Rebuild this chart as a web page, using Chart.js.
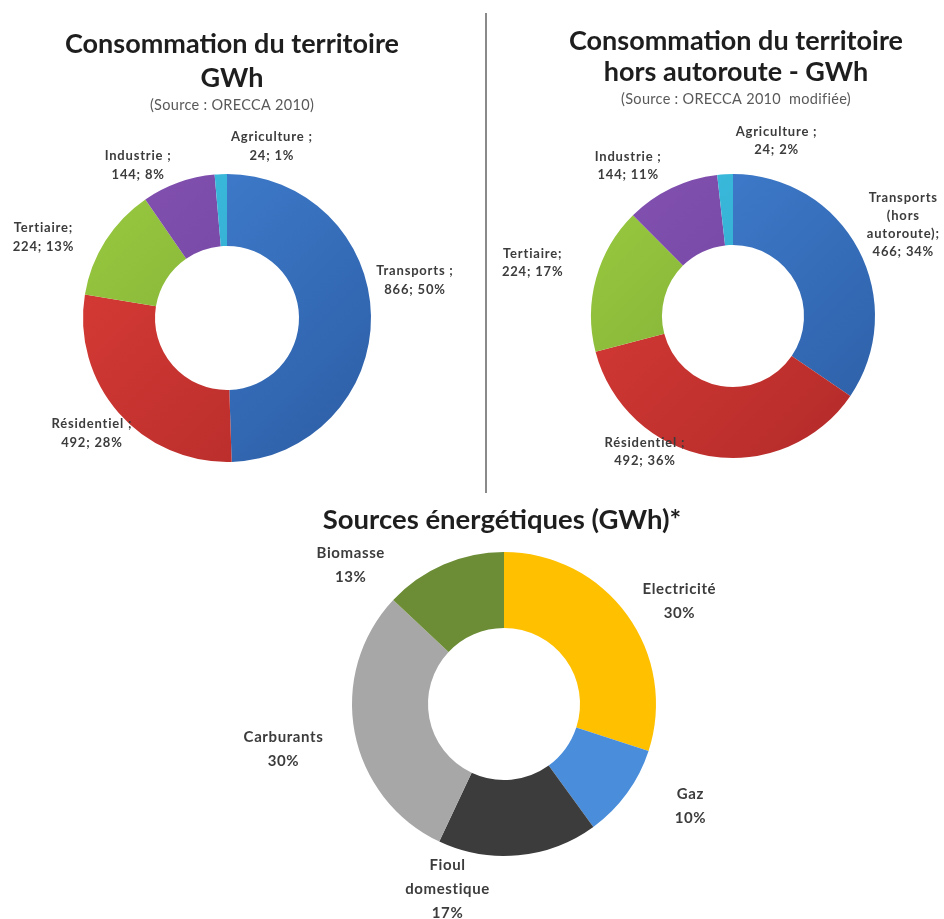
<!DOCTYPE html>
<html>
<head>
<meta charset="utf-8">
<script src="https://cdn.jsdelivr.net/npm/chart.js@4.4.0/dist/chart.umd.min.js"></script>
<style>
  body { margin: 0; background: #fff; }
  #page { position: relative; width: 944px; height: 919px; overflow: hidden; }
  canvas { position: absolute; }
  #sep { position: absolute; left: 485px; top: 13px; width: 2px; height: 480px; background: #8a8a8a; }
</style>
</head>
<body>
<div id="page">
  <canvas id="consoChart" width="470" height="480" style="left:0;top:0"></canvas>
  <div id="sep"></div>
  <canvas id="horsChart" width="454" height="480" style="left:490px;top:0"></canvas>
  <canvas id="sourcesChart" width="600" height="424" style="left:180px;top:495px"></canvas>
</div>
<script>
// Consommation du territoire (ORECCA 2010)
const consoLabels = ["Transports", "Résidentiel", "Tertiaire", "Industrie", "Agriculture"];
const consoNames = [["Transports ;"], ["Résidentiel ;"], ["Tertiaire;"], ["Industrie ;"], ["Agriculture ;"]];
const consoValues = [866, 492, 224, 144, 24];
const consoPct = [50, 28, 13, 8, 1];

// Consommation hors autoroute (ORECCA 2010 modifiée)
const horsLabels = ["Transports (hors autoroute)", "Résidentiel", "Tertiaire", "Industrie", "Agriculture"];
const horsNames = [["Transports", "(hors", "autoroute);"], ["Résidentiel ;"], ["Tertiaire;"], ["Industrie ;"], ["Agriculture ;"]];
const horsValues = [466, 492, 224, 144, 24];
const horsPct = [34, 36, 17, 11, 2];

// Sources énergétiques
const sourcesLabels = ["Electricité", "Gaz", "Fioul domestique", "Carburants", "Biomasse"];
const sourcesNames = [["Electricité"], ["Gaz"], ["Fioul", "domestique"], ["Carburants"], ["Biomasse"]];
const sourcesPct = [30, 10, 17, 30, 13];

// light / dark pairs for the excel-like gradient
const sectorColors = [
  ["#4282d4", "#2c5da4"],
  ["#dc3d37", "#b12a29"],
  ["#9acb40", "#76a032"],
  ["#8553b4", "#663c92"],
  ["#3fc0e2", "#279cc0"]
];
const sourceColors = ["#ffc000", "#4a8edb", "#3c3c3c", "#a7a7a7", "#6c8d35"];

const gradientFill = (pairs) => (ctx) => {
  const pair = pairs[ctx.dataIndex];
  const area = ctx.chart.chartArea;
  if (!area) return pair[0];
  const g = ctx.chart.ctx.createLinearGradient(area.left, area.top, area.right, area.bottom);
  g.addColorStop(0, pair[0]);
  g.addColorStop(1, pair[1]);
  return g;
};

// draws titles and the outside labels of each slice
const panelText = {
  id: "panelText",
  afterDatasetsDraw(chart, args, opts) {
    const ctx = chart.ctx;
    ctx.save();
    ctx.textAlign = "center";
    ctx.textBaseline = "middle";
    opts.titles.forEach(t => {
      ctx.font = t.font;
      ctx.letterSpacing = t.spacing || "0px";
      ctx.fillStyle = t.color;
      ctx.fillText(t.text, opts.titleX, t.y);
    });

    const meta = chart.getDatasetMeta(0);
    ctx.font = opts.labelFont;
    ctx.letterSpacing = opts.labelSpacing;
    ctx.fillStyle = opts.labelColor;
    meta.data.forEach((arc, i) => {
      const mid = (arc.startAngle + arc.endAngle) / 2;
      const dist = arc.outerRadius + opts.gap;
      const nudge = opts.nudges[i];
      const cx = arc.x + Math.cos(mid) * dist + nudge[0];
      const cy = arc.y + Math.sin(mid) * dist + nudge[1];
      const lines = opts.lines[i];
      const top = cy - (lines.length - 1) * opts.lineHeight / 2;
      lines.forEach((l, k) => ctx.fillText(l, cx, top + k * opts.lineHeight));
    });
    ctx.restore();
  }
};

function donut(id, labels, values, bg, padding, text) {
  return new Chart(document.getElementById(id), {
    type: "doughnut",
    data: {
      labels: labels,
      datasets: [{ data: values, backgroundColor: bg, borderWidth: 0 }]
    },
    options: {
      responsive: false,
      animation: false,
      cutout: "50%",
      layout: { padding: padding },
      plugins: {
        legend: { display: false },
        tooltip: { enabled: false },
        panelText: text
      }
    },
    plugins: [panelText]
  });
}

const titleFont = "bold 27px Lato";
const subFont = "14.5px Lato";

donut("consoChart", consoLabels, consoValues, gradientFill(sectorColors),
  { left: 83, top: 174, right: 99, bottom: 18 },
  {
    titleX: 232,
    titles: [
      { text: "Consommation du territoire", y: 44, font: titleFont, color: "#1e1e1e" },
      { text: "GWh", y: 78, font: titleFont, color: "#1e1e1e" },
      { text: "(Source : ORECCA 2010)", y: 105, font: subFont, color: "#595959", spacing: "0.3px" }
    ],
    labelFont: "bold 13px Lato",
    labelSpacing: "0.8px",
    labelColor: "#3c3c3c",
    lineHeight: 19,
    gap: 45,
    nudges: [[-1, -35], [7, -9], [-24, 21], [-25, 25], [53, 17]],
    lines: consoNames.map((n, i) => n.concat(`${consoValues[i]}; ${consoPct[i]}%`))
  });

donut("horsChart", horsLabels, horsValues, gradientFill(sectorColors),
  { left: 101, top: 174, right: 69, bottom: 22 },
  {
    titleX: 246,
    titles: [
      { text: "Consommation du territoire", y: 41, font: titleFont, color: "#1e1e1e" },
      { text: "hors autoroute - GWh", y: 72, font: titleFont, color: "#1e1e1e" },
      { text: "(Source : ORECCA 2010  modifiée)", y: 99, font: subFont, color: "#595959", spacing: "0.3px" }
    ],
    labelFont: "bold 13px Lato",
    labelSpacing: "0.8px",
    labelColor: "#3c3c3c",
    lineHeight: 18,
    gap: 45,
    nudges: [[5, -4], [-56, -48], [-20, -4], [-24, 18], [54, 12]],
    lines: horsNames.map((n, i) => n.concat(`${horsValues[i]}; ${horsPct[i]}%`))
  });

donut("sourcesChart", sourcesLabels, sourcesPct, sourceColors,
  { left: 171, top: 57, right: 123, bottom: 63 },
  {
    titleX: 322,
    titles: [
      { text: "Sources énergétiques (GWh)*", y: 25, font: "bold 27.5px Lato", color: "#1e1e1e" }
    ],
    labelFont: "bold 15px Lato",
    labelSpacing: "0.6px",
    labelColor: "#3c3c3c",
    lineHeight: 24,
    gap: 45,
    nudges: [[16, 13], [27, -14], [-75, -11], [-27, 8], [-75, 42]],
    lines: sourcesNames.map((n, i) => n.concat(`${sourcesPct[i]}%`))
  });
</script>
</body>
</html>
